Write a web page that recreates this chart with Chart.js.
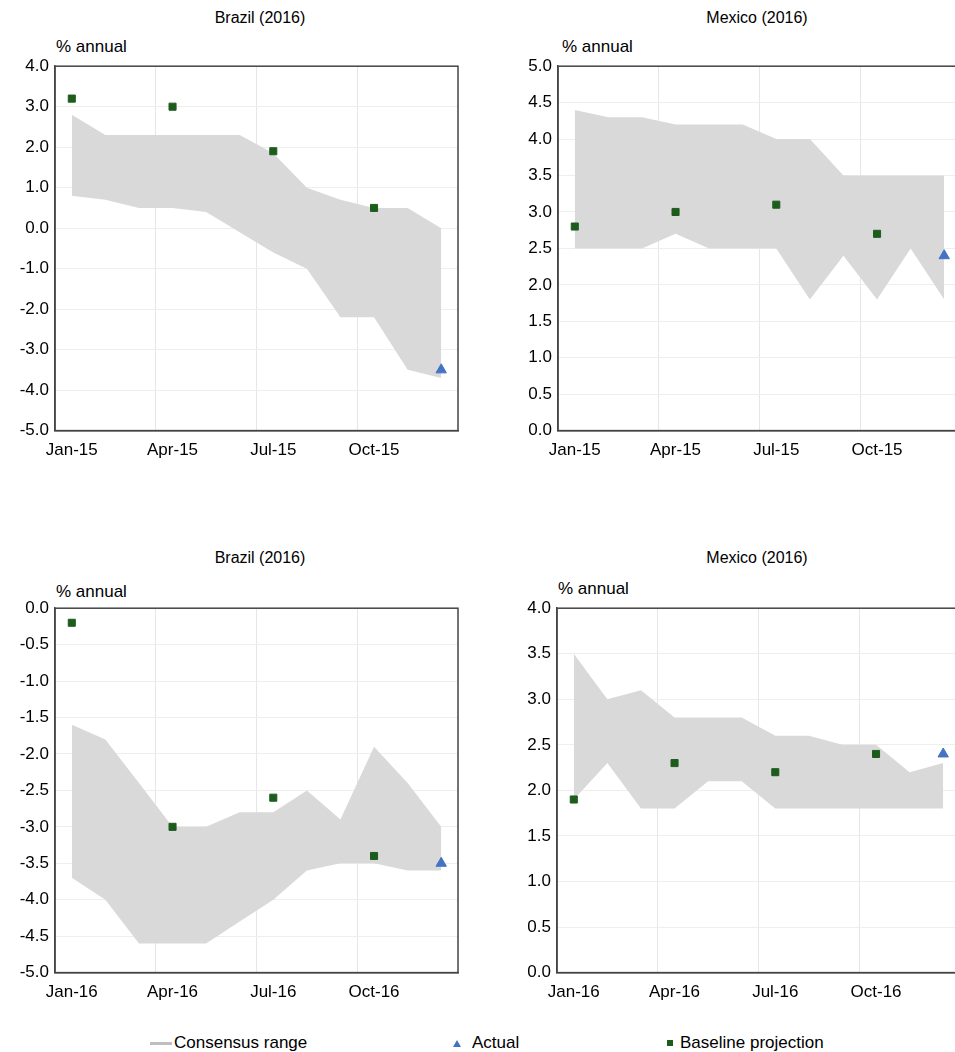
<!DOCTYPE html>
<html><head><meta charset="utf-8">
<script src="https://cdn.jsdelivr.net/npm/chart.js@4.4.1/dist/chart.umd.min.js"></script>
<style>
html,body{overflow:hidden}
body{margin:0;width:955px;height:1052px;background:#fff;font-family:"Liberation Sans",Arial,sans-serif;color:#000;position:relative}
.title{position:absolute;font-size:16px;text-align:center;width:470px}
.unit{position:absolute;font-size:17px}
.box{position:absolute;height:421px;width:470px}
.leg{position:absolute;top:1033px;font-size:17px;display:flex;align-items:center}
</style></head><body>
<div class="title" style="left:25px;top:9px">Brazil (2016)</div>
<div class="title" style="left:522px;top:9px">Mexico (2016)</div>
<div class="title" style="left:25px;top:549px">Brazil (2016)</div>
<div class="title" style="left:522px;top:549px">Mexico (2016)</div>
<div class="unit" style="left:56px;top:37px">% annual</div>
<div class="unit" style="left:562px;top:37px">% annual</div>
<div class="unit" style="left:56px;top:582px">% annual</div>
<div class="unit" style="left:558px;top:579px">% annual</div>
<div class="box" style="left:0;top:50px"><canvas id="c1"></canvas></div>
<div class="box" style="left:503px;top:50px"><canvas id="c2"></canvas></div>
<div class="box" style="left:0;top:592px"><canvas id="c3"></canvas></div>
<div class="box" style="left:502px;top:592px"><canvas id="c4"></canvas></div>
<div class="leg" style="left:150px"><span style="display:inline-block;width:22px;height:3px;background:#bfbfbf;margin-right:2px"></span>Consensus range</div>
<div class="leg" style="left:453px"><span style="display:inline-block;width:0;height:0;border-left:4px solid transparent;border-right:4px solid transparent;border-bottom:7px solid #4472c4;margin-right:11px"></span>Actual</div>
<div class="leg" style="left:667px"><span style="display:inline-block;width:6px;height:6px;background:#1e5c1e;margin-right:7px"></span>Baseline projection</div>
<script>
const labels15 = ['Jan-15','Feb-15','Mar-15','Apr-15','May-15','Jun-15','Jul-15','Aug-15','Sep-15','Oct-15','Nov-15','Dec-15'];
const labels16 = ['Jan-16','Feb-16','Mar-16','Apr-16','May-16','Jun-16','Jul-16','Aug-16','Sep-16','Oct-16','Nov-16','Dec-16'];

const brazil15Upper = [2.8, 2.3, 2.3, 2.3, 2.3, 2.3, 1.85, 1.0, 0.7, 0.5, 0.5, 0.0];
const brazil15Lower = [0.8, 0.7, 0.5, 0.5, 0.4, -0.1, -0.6, -1.0, -2.2, -2.2, -3.5, -3.7];
const brazil15Base = [3.2, null, null, 3.0, null, null, 1.9, null, null, 0.5, null, null];
const brazil15Actual = [null, null, null, null, null, null, null, null, null, null, null, -3.5];

const mexico15Upper = [4.4, 4.3, 4.3, 4.2, 4.2, 4.2, 4.0, 4.0, 3.5, 3.5, 3.5, 3.5];
const mexico15Lower = [2.5, 2.5, 2.5, 2.7, 2.5, 2.5, 2.5, 1.8, 2.4, 1.8, 2.5, 1.8];
const mexico15Base = [2.8, null, null, 3.0, null, null, 3.1, null, null, 2.7, null, null];
const mexico15Actual = [null, null, null, null, null, null, null, null, null, null, null, 2.4];

const brazil16Upper = [-1.6, -1.8, -2.4, -3.0, -3.0, -2.8, -2.8, -2.5, -2.9, -1.9, -2.4, -3.0];
const brazil16Lower = [-3.7, -4.0, -4.6, -4.6, -4.6, -4.3, -4.0, -3.6, -3.5, -3.5, -3.6, -3.6];
const brazil16Base = [-0.2, null, null, -3.0, null, null, -2.6, null, null, -3.4, null, null];
const brazil16Actual = [null, null, null, null, null, null, null, null, null, null, null, -3.5];

const mexico16Upper = [3.5, 3.0, 3.1, 2.8, 2.8, 2.8, 2.6, 2.6, 2.5, 2.5, 2.2, 2.3];
const mexico16Lower = [1.9, 2.3, 1.8, 1.8, 2.1, 2.1, 1.8, 1.8, 1.8, 1.8, 1.8, 1.8];
const mexico16Base = [1.9, null, null, 2.3, null, null, 2.2, null, null, 2.4, null, null];
const mexico16Actual = [null, null, null, null, null, null, null, null, null, null, null, 2.4];

const FONT = { family: '"Liberation Sans", Arial, sans-serif', size: 17 };

function makeChart(id, labels, upper, lower, base, actual, min, max, step) {
  new Chart(document.getElementById(id), {
    type: 'line',
    data: {
      labels,
      datasets: [
        { data: upper, order: 3, fill: '+1', backgroundColor: '#d9d9d9', borderWidth: 0, pointRadius: 0, tension: 0 },
        { data: lower, order: 3, fill: false, borderWidth: 0, pointRadius: 0, tension: 0 },
        { data: base, order: 0, showLine: false, pointStyle: 'rect', pointRadius: 5, backgroundColor: '#1e5c1e', borderColor: '#1e5c1e' },
        { data: actual, order: 0, showLine: false, pointStyle: 'triangle', pointRadius: 6, backgroundColor: '#4472c4', borderColor: '#4472c4' }
      ]
    },
    options: {
      responsive: true,
      maintainAspectRatio: false,
      animation: false,
      layout: { padding: { top: 0, right: 12 } },
      plugins: { legend: { display: false }, tooltip: { enabled: false } },
      scales: {
        x: {
          offset: true,
          border: { color: '#444', width: 1.5 },
          grid: { offset: true, drawTicks: false,
            color: ctx => (ctx.index % 3 === 0 ? '#e6e6e6' : 'rgba(0,0,0,0)') },
          ticks: { autoSkip: false, maxRotation: 0, color: '#000', font: FONT, padding: 10,
            callback: (v, i) => (i % 3 === 0 ? labels[i] : '') }
        },
        y: {
          min, max,
          afterFit: s => { s.width = 55; },
          border: { color: '#444', width: 1.5 },
          grid: { color: '#eeeeee', drawTicks: false },
          ticks: { stepSize: step, color: '#000', font: FONT, padding: 6,
            callback: v => v.toFixed(1) }
        }
      }
    },
    plugins: [{
      id: 'frame',
      afterDraw(c) {
        const a = c.chartArea, g = c.ctx;
        g.save(); g.strokeStyle = '#444'; g.lineWidth = 1.5;
        g.strokeRect(a.left, a.top, a.right - a.left, a.bottom - a.top);
        g.restore();
      }
    }]
  });
}

makeChart('c1', labels15, brazil15Upper, brazil15Lower, brazil15Base, brazil15Actual, -5, 4, 1);
makeChart('c2', labels15, mexico15Upper, mexico15Lower, mexico15Base, mexico15Actual, 0, 5, 0.5);
makeChart('c3', labels16, brazil16Upper, brazil16Lower, brazil16Base, brazil16Actual, -5, 0, 0.5);
makeChart('c4', labels16, mexico16Upper, mexico16Lower, mexico16Base, mexico16Actual, 0, 4, 0.5);
</script>
</body></html>
